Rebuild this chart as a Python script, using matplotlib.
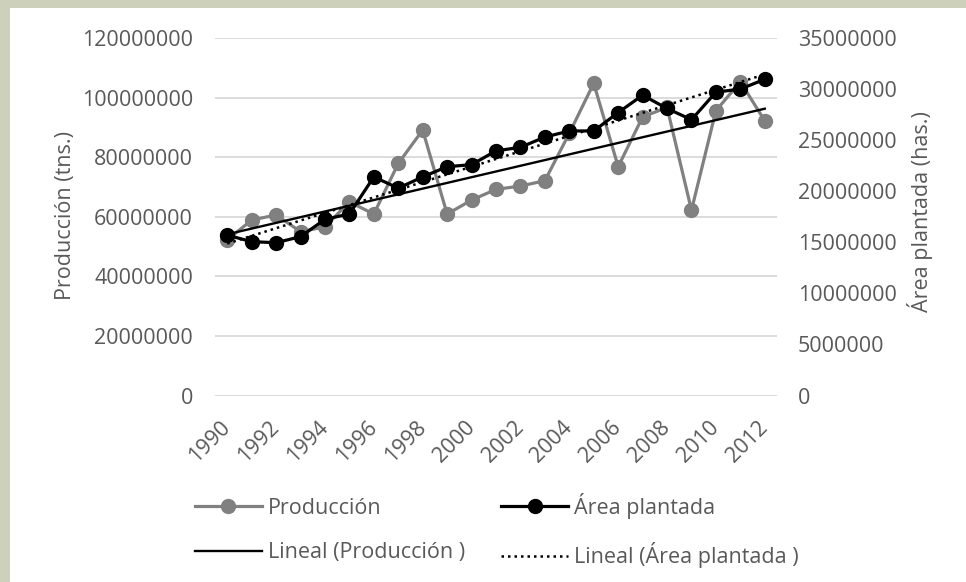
import numpy as np
import matplotlib
matplotlib.use('Agg')
import matplotlib.pyplot as plt
from matplotlib.patches import Rectangle
from matplotlib.ticker import FuncFormatter, MultipleLocator

# Serie anual 1990-2012
years = list(range(1990, 2013))
produccion = [52.2e6, 58.9e6, 60.6e6, 55.0e6, 56.6e6, 65.0e6, 60.9e6, 77.9e6,
              89.1e6, 60.9e6, 65.6e6, 69.2e6, 70.3e6, 72.1e6, 88.0e6, 104.8e6,
              76.8e6, 93.5e6, 96.7e6, 62.2e6, 95.6e6, 105.3e6, 92.2e6]
area_plantada = [15.7e6, 15.06e6, 14.96e6, 15.55e6, 17.25e6, 17.77e6, 21.4e6,
                 20.3e6, 21.4e6, 22.4e6, 22.6e6, 23.95e6, 24.3e6, 25.3e6,
                 25.9e6, 25.9e6, 27.7e6, 29.4e6, 28.1e6, 27.0e6, 29.7e6,
                 30.0e6, 30.96e6]
tick_years = years[::2]

TEXT = '#595959'
GRAY = '#808080'
FS = 15.5

plt.rcParams['font.family'] = ['Open Sans', 'DejaVu Sans']

fig = plt.figure(figsize=(9.66, 5.82), dpi=100)
fig.patch.set_facecolor('#cdd1bc')
fig.add_artist(Rectangle((10 / 966, 0), 1, 1 - 8 / 582, transform=fig.transFigure,
                         facecolor='white', edgecolor='none', zorder=0))

ax1 = fig.add_axes([215 / 966, 186.5 / 582, 562 / 966, 357.5 / 582])
ax1.set_facecolor('white')
x = np.arange(len(years))

# Producción + tendencia lineal (eje principal)
l1, = ax1.plot(x, produccion, color=GRAY, lw=2.3, marker='o', ms=10, zorder=3)
fit1 = np.polyval(np.polyfit(x, produccion, 1), x)
t1, = ax1.plot(x, fit1, color='black', lw=1.7, zorder=4)

# Área plantada + tendencia lineal (eje secundario)
ax2 = ax1.twinx()
l2, = ax2.plot(x, area_plantada, color='black', lw=2.3, marker='o', ms=10, zorder=3)
fit2 = np.polyval(np.polyfit(x, area_plantada, 1), x)
t2, = ax2.plot(x, fit2, color='black', lw=1.8, ls=(0, (1, 1.6)), zorder=4)

ax1.set_xlim(-0.5, len(years) - 0.5)
ax1.set_ylim(0, 120e6)
ax2.set_ylim(0, 35e6)
ax1.yaxis.set_major_locator(MultipleLocator(20e6))
ax2.yaxis.set_major_locator(MultipleLocator(5e6))
fmt = FuncFormatter(lambda v, p: f'{v:.0f}')
ax1.yaxis.set_major_formatter(fmt)
ax2.yaxis.set_major_formatter(fmt)

ax1.set_xticks(x[::2])
ax1.set_xticklabels([str(y) for y in tick_years])
ax1.grid(axis='y', color='#d9d9d9', lw=1.3, zorder=0)
ax1.set_axisbelow(True)

for ax in (ax1, ax2):
    for s in ax.spines.values():
        s.set_visible(False)
    ax.tick_params(length=0, labelsize=FS, labelcolor=TEXT)
ax1.tick_params(axis='y', pad=15.8)
ax2.tick_params(axis='y', pad=15)
ax1.tick_params(axis='x', pad=21)
plt.setp(ax1.get_xticklabels(), rotation=45, ha='right', va='center',
         rotation_mode='anchor')

ax1.set_ylabel('Producción (tns.)', fontsize=FS, color=TEXT, va='center', ha='center')
ax1.yaxis.set_label_coords((65 - 215) / 562, (395.5 - 216) / 357.5)
ax2.set_ylabel('Área plantada (has.)', fontsize=FS, color=TEXT, va='center',
               ha='center', rotation=90)
ax2.yaxis.set_label_coords((920 - 215) / 562, (395.5 - 212) / 357.5)

leg = fig.legend([l1, t1, l2, t2],
                 ['Producción', 'Lineal (Producción )', 'Área plantada',
                  'Lineal (Área plantada )'],
                 ncol=2, loc='upper left', bbox_to_anchor=(195 / 966, 1 - 493 / 582),
                 frameon=False, fontsize=FS, labelcolor=TEXT, handlelength=3.1,
                 handletextpad=0.28, columnspacing=1.7, labelspacing=1.07,
                 borderpad=0, borderaxespad=0, numpoints=1)

fig.savefig('out.png', dpi=100, facecolor=fig.get_facecolor())
